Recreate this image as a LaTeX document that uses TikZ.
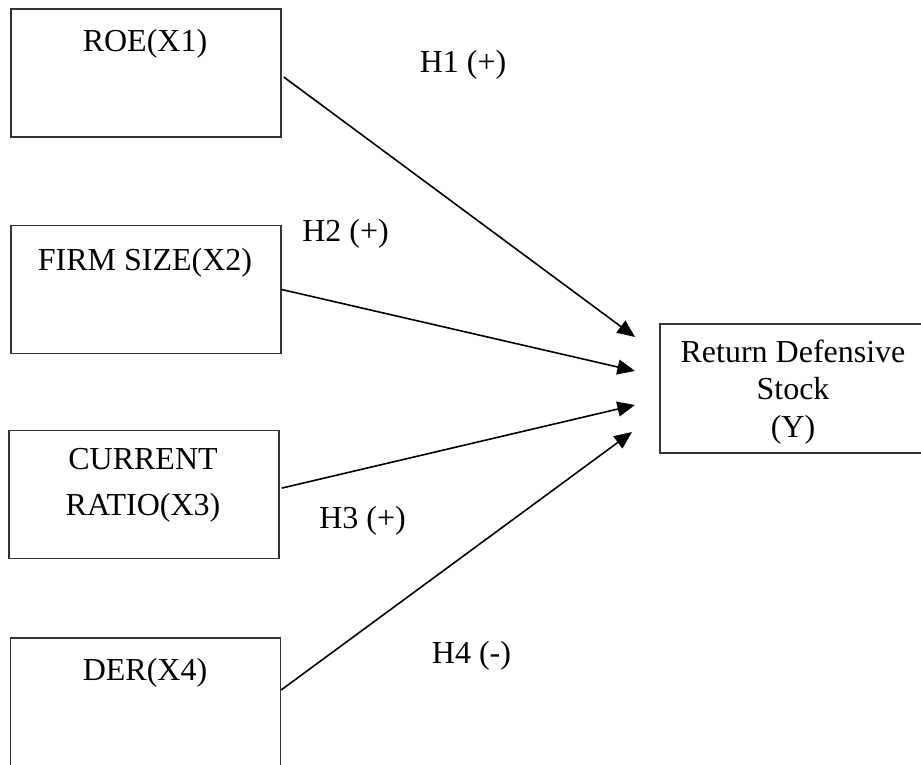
\documentclass[tikz,border=0pt]{standalone}
\usepackage{fontspec}
\setmainfont{Liberation Serif}
\usetikzlibrary{arrows.meta}

\tikzset{
  varbox/.style={draw=black!80, line width=0.45pt, minimum width=101.25pt,
    minimum height=48pt, inner sep=0pt},
  vartext/.style={anchor=base, inner sep=0pt, align=center,
    font=\fontsize{12}{16.9}\selectfont},
  hyp/.style={anchor=base, inner sep=0pt, font=\fontsize{12}{14}\selectfont},
  link/.style={line width=0.6pt, -{Triangle[length=6.6pt,width=5.6pt]}}
}

\begin{document}
\begin{tikzpicture}[x=0.375pt,y=-0.375pt]
        \useasboundingbox (0,0) rectangle (921,764);
        \node[varbox] (roe) at (146,73) {};
        \node[varbox] (size) at (146,289.5) {};
        \node[varbox] (cr) at (144,494.5) {};
        \node[varbox] (der) at (145.5,702) {};
        \node[varbox, minimum width=98.6pt, minimum height=48.4pt] (ret) at (791.5,388.5) {};
        \node[vartext] (roetext) at (145,51) {ROE(X1)};
        \node[vartext] (sizetext) at (145,270) {FIRM SIZE(X2)};
        \node[vartext] (crtext) at (143,515) {CURRENT\\RATIO(X3)};
        \node[vartext] (dertext) at (145,680) {DER(X4)};
        \node[vartext, font=\fontsize{12}{13.9}\selectfont] (rettext) at (793,437)
            {Return Defensive\\Stock\\(Y)};
        \coordinate (t1) at (635,337);
        \coordinate (t2) at (635,371);
        \coordinate (t3) at (635,405);
        \coordinate (t4) at (632,432);
        \draw[link] ([xshift=0.8pt,yshift=-1.5pt]roe.east) -- (t1);
        \draw[link] (size.east) -- (t2);
        \draw[link] ([xshift=0.8pt,yshift=2.4pt]cr.east) -- (t3);
        \draw[link] ([yshift=4.5pt]der.east) -- (t4);
        \node[hyp] (h1) at (463,72) {H1 (+)};
        \node[hyp] (h2) at (345.5,241) {H2 (+)};
        \node[hyp] (h3) at (362.5,528) {H3 (+)};
        \node[hyp] (h4) at (471.5,663) {H4 (-)};
    \end{tikzpicture}
\end{document}
